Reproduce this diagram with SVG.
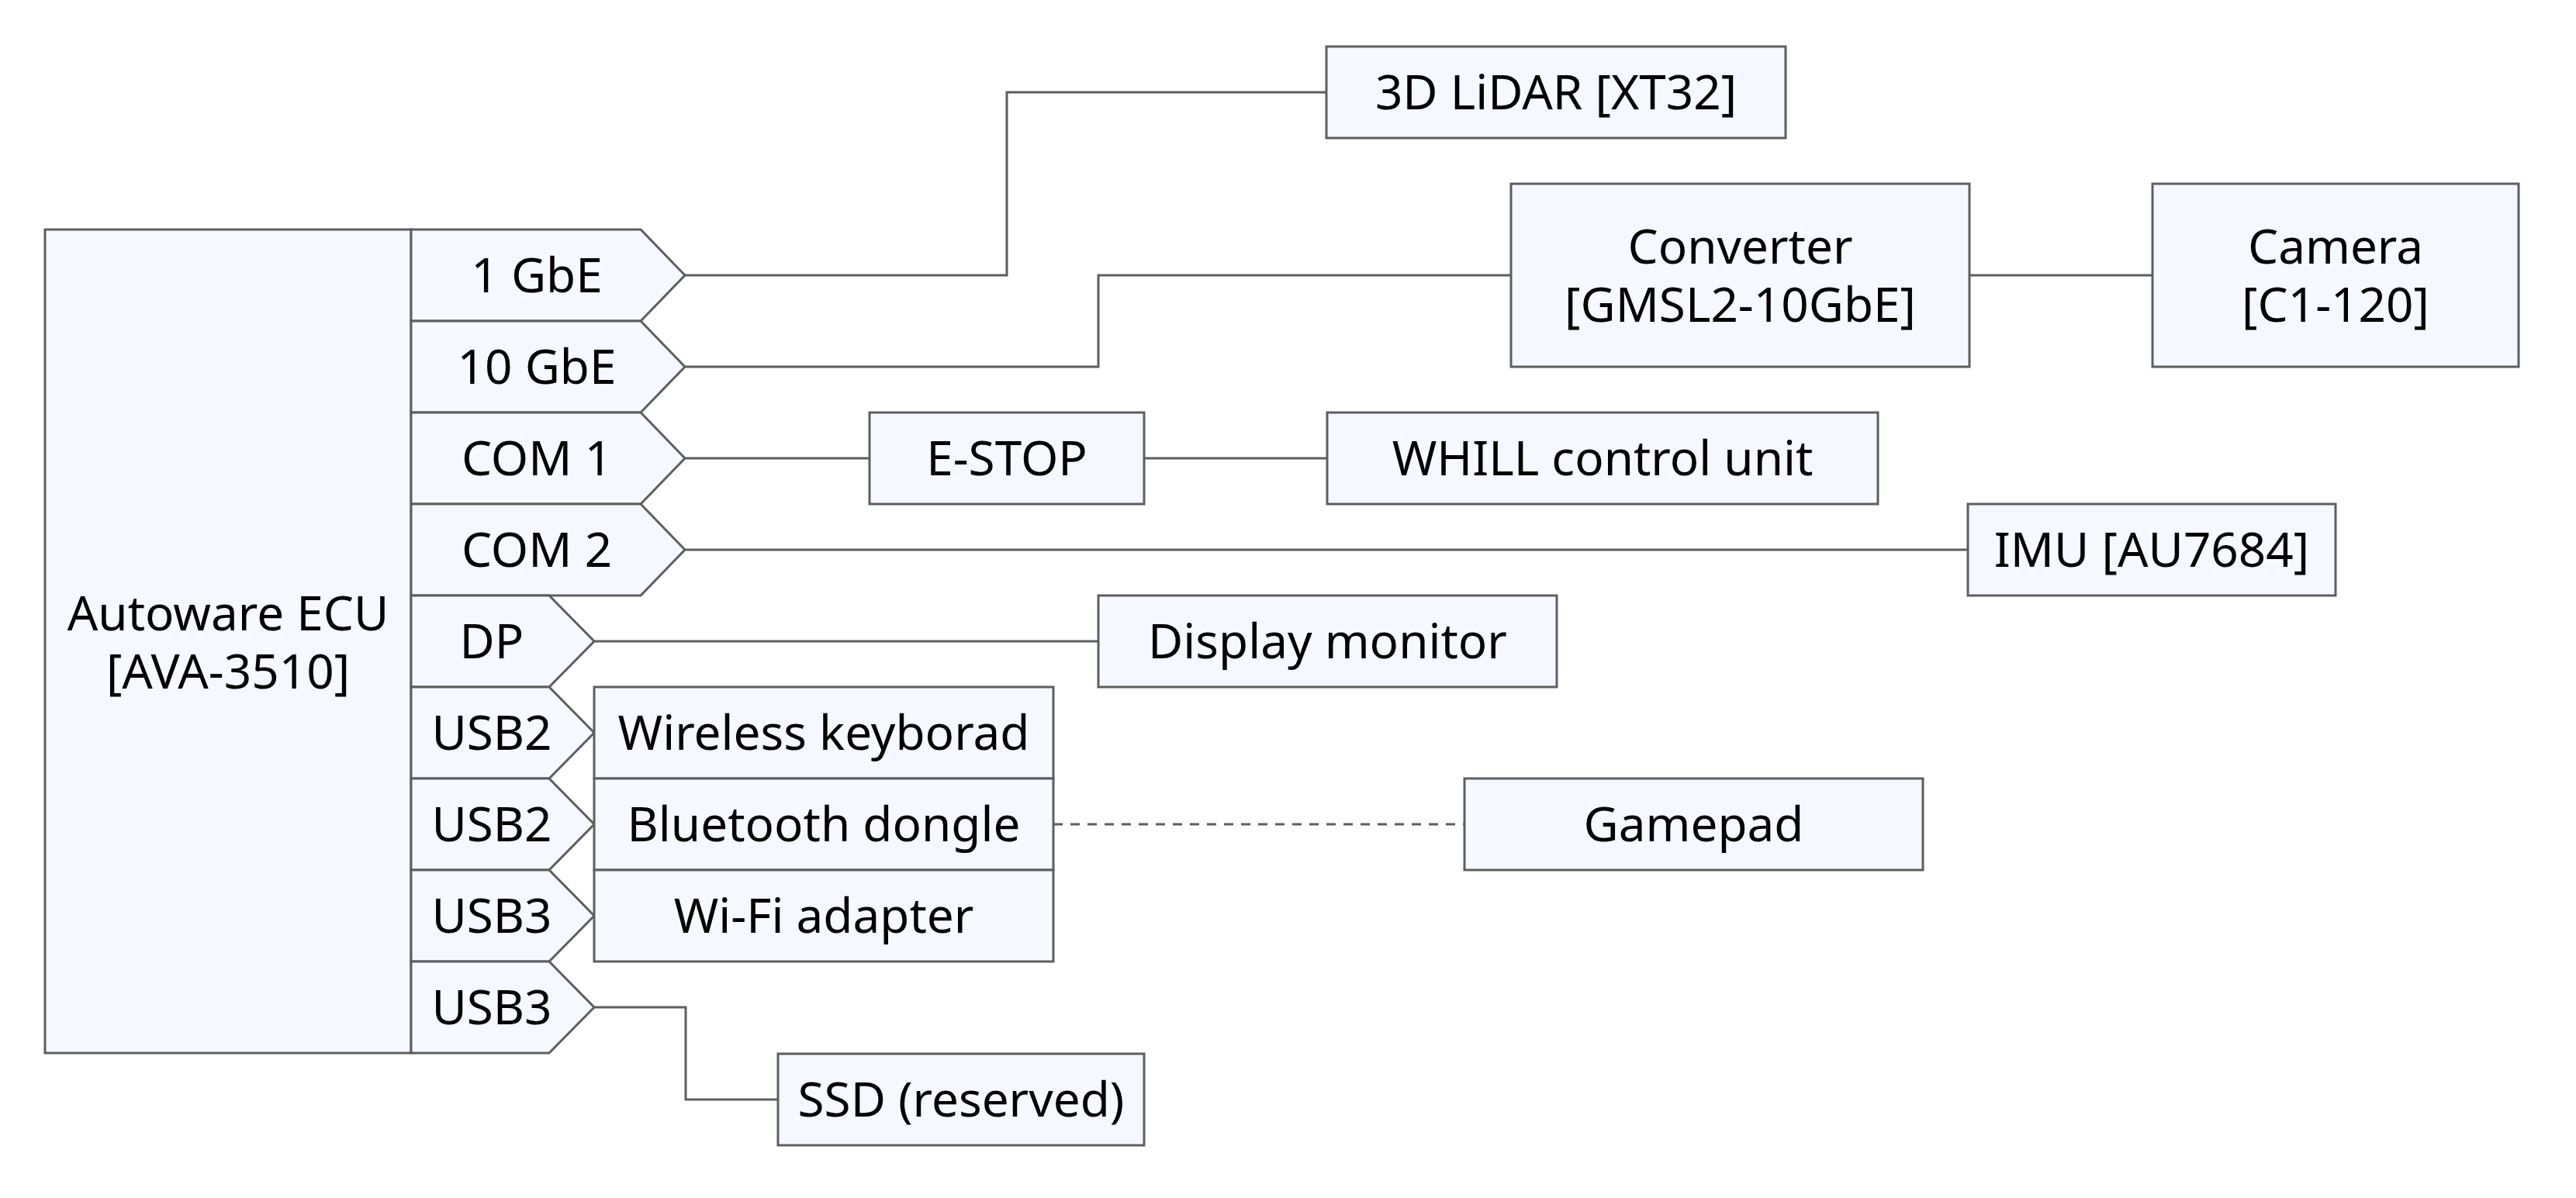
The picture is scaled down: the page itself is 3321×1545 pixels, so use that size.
<svg xmlns="http://www.w3.org/2000/svg" width="3321" height="1545" viewBox="0 0 3321 1545">
<style>
.b{fill:#f5f8ff;stroke:#5e5e5e;stroke-width:3}
.c{fill:none;stroke:#5e5e5e;stroke-width:3}
.d{stroke-dasharray:12 10}
text{font-family:"Noto Sans","Open Sans","DejaVu Sans",sans-serif;font-size:62px;fill:#000;text-anchor:middle}
</style>
<rect width="3321" height="1545" fill="#ffffff"/>
<g id="connectors">
<path class="c" d="M883,355 H1298 V119 H1710"/>
<path class="c" d="M883,473 H1416 V355 H1948"/>
<path class="c" d="M2539,355 H2775"/>
<path class="c" d="M883,591 H1121"/>
<path class="c" d="M1475,591 H1711"/>
<path class="c" d="M883,709 H2537"/>
<path class="c" d="M766,827 H1416"/>
<path class="c" d="M766,1299 H884 V1418 H1003"/>
<path class="c d" d="M1358,1063 H1888"/>
</g>
<g id="ecu">
<rect class="b" x="58" y="296" width="472" height="1062"/>
<text x="294" y="813">Autoware ECU</text>
<text x="294" y="888">[AVA-3510]</text>
</g>
<g id="port-1gbe"><polygon class="b" points="530,296 826,296 883,355 826,414 530,414"/><text x="692" y="377">1 GbE</text></g>
<g id="port-10gbe"><polygon class="b" points="530,414 826,414 883,473 826,532 530,532"/><text x="692" y="495">10 GbE</text></g>
<g id="port-com1"><polygon class="b" points="530,532 826,532 883,591 826,650 530,650"/><text x="692" y="613">COM 1</text></g>
<g id="port-com2"><polygon class="b" points="530,650 826,650 883,709 826,768 530,768"/><text x="692" y="731">COM 2</text></g>
<g id="port-dp"><polygon class="b" points="530,768 708,768 766,827 708,886 530,886"/><text x="634" y="849">DP</text></g>
<g id="port-usb2a"><polygon class="b" points="530,886 708,886 766,945 708,1004 530,1004"/><text x="634" y="967">USB2</text></g>
<g id="port-usb2b"><polygon class="b" points="530,1004 708,1004 766,1063 708,1122 530,1122"/><text x="634" y="1085">USB2</text></g>
<g id="port-usb3a"><polygon class="b" points="530,1122 708,1122 766,1181 708,1240 530,1240"/><text x="634" y="1203">USB3</text></g>
<g id="port-usb3b"><polygon class="b" points="530,1240 708,1240 766,1299 708,1358 530,1358"/><text x="634" y="1321">USB3</text></g>
<g id="keyboard"><rect class="b" x="766" y="886" width="592" height="118"/><text x="1062" y="967">Wireless keyborad</text></g>
<g id="bluetooth"><rect class="b" x="766" y="1004" width="592" height="118"/><text x="1062" y="1085">Bluetooth dongle</text></g>
<g id="wifi"><rect class="b" x="766" y="1122" width="592" height="118"/><text x="1062" y="1203">Wi-Fi adapter</text></g>
<g id="lidar"><rect class="b" x="1710" y="60" width="592" height="118"/><text x="2006" y="141">3D LiDAR [XT32]</text></g>
<g id="converter"><rect class="b" x="1948" y="237" width="591" height="236"/><text x="2243.5" y="340">Converter</text><text x="2243.5" y="415">[GMSL2-10GbE]</text></g>
<g id="camera"><rect class="b" x="2775" y="237" width="472" height="236"/><text x="3011" y="340">Camera</text><text x="3011" y="415">[C1-120]</text></g>
<g id="estop"><rect class="b" x="1121" y="532" width="354" height="118"/><text x="1298" y="613">E-STOP</text></g>
<g id="whill"><rect class="b" x="1711" y="532" width="710" height="118"/><text x="2066" y="613">WHILL control unit</text></g>
<g id="imu"><rect class="b" x="2537" y="650" width="474" height="118"/><text x="2774" y="731">IMU [AU7684]</text></g>
<g id="display"><rect class="b" x="1416" y="768" width="591" height="118"/><text x="1711.5" y="849">Display monitor</text></g>
<g id="gamepad"><rect class="b" x="1888" y="1004" width="591" height="118"/><text x="2183.5" y="1085">Gamepad</text></g>
<g id="ssd"><rect class="b" x="1003" y="1359" width="472" height="118"/><text x="1239" y="1440">SSD (reserved)</text></g>
</svg>
